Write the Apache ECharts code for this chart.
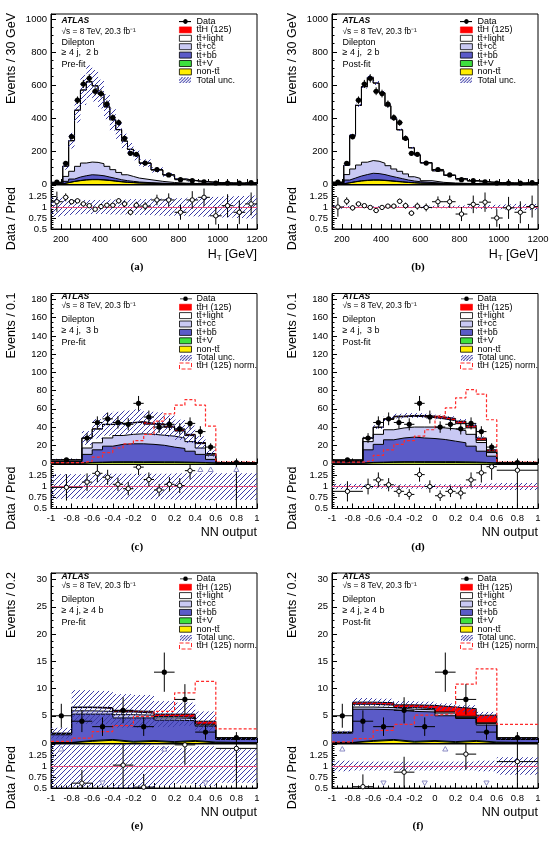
<!DOCTYPE html>
<html>
<head>
<meta charset="utf-8">
<script src="https://cdn.jsdelivr.net/npm/echarts@6/dist/echarts.min.js"></script>
<style>
  html, body { margin: 0; padding: 0; background: #fff; }
  #chart { width: 549px; height: 845px; }
</style>
</head>
<body>
<div id="chart"></div>
<script>
// ttH dilepton, pre-fit / post-fit distributions (6 panels)

// ---- H_T panels (a), (b) ----
var htEdges = [150, 210, 240, 270, 300, 330, 360, 390, 420, 450, 480, 510, 540, 570, 600, 660, 720, 780, 840, 900, 960, 1020, 1080, 1140, 1200];
var htData = [11, 125, 287, 508, 606, 640, 562, 548, 484, 402, 372, 277, 186, 180, 127, 88, 55, 26, 20, 13, 6, 6, 5, 8];
var htDataErr = [3.3, 11, 17, 22.5, 24.6, 25.3, 23.7, 23.4, 22, 20, 19.3, 16.6, 13.6, 13.4, 11.3, 9.4, 7.4, 5.1, 4.5, 3.6, 2.4, 2.4, 2.2, 2.8];

var nonttA = [1, 8, 15, 20, 24, 26, 26, 24, 21, 17, 13, 10, 8, 6, 4, 2.5, 1.5, 1, 0.6, 0.4, 0.3, 0.2, 0.1, 0.1];
var ttvA = [0.1, 0.5, 1, 1.5, 2, 2, 2, 2, 2, 1.5, 1.5, 1, 1, 0.8, 0.6, 0.4, 0.3, 0.2, 0.1, 0.1, 0.1, 0.05, 0.05, 0.05];
var ttbbA = [0.9, 7.5, 14, 20.5, 24, 28, 26, 24, 19, 15.5, 11.5, 9, 7, 5.2, 3.4, 2.1, 1.2, 0.8, 0.5, 0.3, 0.1, 0.15, 0.15, 0.15];
var ttccA = [2, 30, 47, 65, 77, 77, 77, 73, 65, 53, 44, 36, 30, 24, 18, 11, 6, 3, 1.8, 1.2, 0.7, 0.6, 0.5, 0.5];
var ttlightA = [4, 62, 185, 340, 442, 486, 463, 421, 360, 302, 259, 204, 164, 139, 100, 69, 46, 25, 16, 11, 7, 5, 4.2, 5.2];
var tthA = [0, 0.2, 0.5, 0.8, 1, 1, 1, 1, 0.9, 0.8, 0.6, 0.5, 0.4, 0.3, 0.3, 0.2, 0.1, 0.1, 0, 0, 0, 0, 0, 0];
var uncA = [0.22, 0.2, 0.18, 0.17, 0.16, 0.16, 0.16, 0.16, 0.16, 0.17, 0.17, 0.17, 0.18, 0.18, 0.18, 0.19, 0.2, 0.2, 0.21, 0.22, 0.23, 0.24, 0.25, 0.26];
var ratioA = [1.12, 1.22, 1.12, 1.14, 1.07, 1.03, 0.95, 1.01, 1.04, 1.04, 1.14, 1.07, 0.88, 1.04, 1.02, 1.16, 1.16, 0.88, 1.16, 1.22, 0.80, 1.03, 0.88, 1.07];
var ratioErrA = [0.23, 0.09, 0.06, 0.05, 0.04, 0.04, 0.04, 0.04, 0.05, 0.05, 0.06, 0.07, 0.07, 0.08, 0.09, 0.12, 0.15, 0.17, 0.2, 0.2, 0.2, 0.26, 0.27, 0.26];

var nonttB = [1, 7, 13, 18, 21, 23, 23, 21, 18, 15, 12, 9, 7, 5, 3.5, 2, 1.3, 0.8, 0.5, 0.3, 0.2, 0.1, 0.1, 0.1];
var ttvB = [0.1, 0.5, 1, 1.5, 2, 2, 2, 2, 2, 1.5, 1.5, 1, 1, 0.8, 0.6, 0.4, 0.3, 0.2, 0.1, 0.1, 0.1, 0.05, 0.05, 0.05];
var ttbbB = [1.9, 16.5, 22, 28.5, 34, 40, 38, 34, 28, 23.5, 18.5, 14, 10, 8.2, 4.9, 2.6, 1.4, 1.0, 0.6, 0.4, 0.2, 0.25, 0.15, 0.15];
var ttccB = [2, 33, 55, 67, 75, 77, 75, 69, 63, 51, 45, 37, 26, 20, 11, 5, 3, 2, 1.3, 0.8, 0.6, 0.5, 0.5, 0.5];
var ttlightB = [5, 56, 204, 361, 457, 503, 473, 426, 362, 305, 251, 210, 175, 142, 109, 70, 46, 29, 16.5, 10.4, 6.9, 5.1, 4.9, 7.2];
var tthB = [0, 0.3, 0.7, 1, 1.3, 1.4, 1.4, 1.3, 1.2, 1, 0.8, 0.7, 0.5, 0.4, 0.3, 0.2, 0.1, 0.1, 0, 0, 0, 0, 0, 0];
var uncB = [0.04, 0.03, 0.025, 0.02, 0.02, 0.02, 0.02, 0.02, 0.02, 0.02, 0.02, 0.02, 0.025, 0.025, 0.03, 0.03, 0.03, 0.035, 0.04, 0.045, 0.05, 0.06, 0.07, 0.07];
var ratioB = [1.0, 1.13, 0.98, 1.07, 1.03, 0.99, 0.92, 0.99, 1.02, 1.02, 1.13, 1.03, 0.86, 1.02, 0.99, 1.12, 1.12, 0.84, 1.06, 1.11, 0.75, 0.98, 0.88, 1.01];
var ratioErrB = [0.22, 0.09, 0.06, 0.05, 0.04, 0.04, 0.04, 0.04, 0.05, 0.05, 0.06, 0.07, 0.06, 0.08, 0.09, 0.12, 0.14, 0.16, 0.2, 0.22, 0.2, 0.25, 0.25, 0.25];

// ---- NN output, >=4j 3b : panels (c), (d) ----
var nn3Edges = [-1, -0.7, -0.6, -0.5, -0.4, -0.3, -0.2, -0.1, 0, 0.1, 0.2, 0.3, 0.4, 0.5, 0.6, 1];
var nn3Data = [4, 28, 45, 49, 45, 43, 66, 51, 40, 43, 38, 44, 35, 18, 1];
var nn3DataErr = [2, 5.3, 6.7, 7, 6.7, 6.6, 8.1, 7.1, 6.3, 6.6, 6.2, 6.6, 5.9, 4.2, 1];

var nonttC = [0.3, 0.8, 1.0, 1.2, 1.2, 1.2, 1.1, 1.1, 1.0, 1.0, 0.9, 0.8, 0.6, 0.3, 0.05];
var ttvC = [0.1, 0.4, 0.5, 0.6, 0.7, 0.7, 0.7, 0.8, 0.8, 0.8, 0.7, 0.6, 0.5, 0.3, 0.05];
var ttbbC = [1.6, 8.8, 13.5, 17.2, 19.1, 19.7, 19.8, 19.1, 18.2, 16.2, 14.9, 12.1, 8.9, 3.9, 0.2];
var ttccC = [0.5, 7, 7.7, 9, 9.7, 10.4, 11, 11, 11, 12, 11.5, 10.5, 7, 4.5, 0.1];
var ttlightC = [1.5, 10.9, 15.1, 14.7, 12.9, 12.5, 12.7, 11.1, 11.3, 9.7, 7.6, 6.6, 4.8, 1.2, 0.2];
var tthC = [0.02, 0.1, 0.2, 0.3, 0.4, 0.5, 0.7, 0.9, 1.2, 1.3, 1.4, 1.4, 1.2, 0.8, 0.1];
var uncC = [0.28, 0.27, 0.28, 0.29, 0.29, 0.29, 0.29, 0.29, 0.29, 0.29, 0.3, 0.3, 0.3, 0.32, 0.3];
var normC = [1, 2.5, 7, 12, 17, 21.6, 25, 32, 46.5, 54.5, 64, 70, 64, 41, 1.5];
var ratioC = [0.98, 1.10, 1.30, 1.21, 1.05, 0.95, 1.44, 1.16, 0.92, 1.05, 1.02, 1.36, 1.56, 1.8, 1.6];
var ratioErrC = [0.3, 0.2, 0.2, 0.17, 0.15, 0.15, 0.18, 0.16, 0.14, 0.16, 0.17, 0.2, 0, 0, 1.2];

var nonttD = [0.3, 0.8, 1.0, 1.2, 1.3, 1.3, 1.2, 1.2, 1.1, 1.1, 1.0, 0.9, 0.7, 0.3, 0.05];
var ttvD = [0.1, 0.4, 0.5, 0.6, 0.7, 0.7, 0.8, 0.8, 0.9, 0.9, 0.8, 0.7, 0.5, 0.3, 0.05];
var ttbbD = [1.6, 13.8, 19.5, 24.2, 26, 27, 26, 25.4, 24.3, 22.5, 20.9, 17.4, 12.3, 7.4, 0.2];
var ttccD = [0.6, 9, 11, 11, 11, 11, 12, 12.6, 12.7, 13.5, 13.3, 13, 9.5, 4, 0.1];
var ttlightD = [1.05, 3.8, 7.6, 11.4, 12.2, 11.7, 11.4, 10.3, 9.8, 8.9, 7.7, 7.1, 2.4, 1.4, 0.1];
var tthD = [0.05, 0.2, 0.4, 0.6, 0.8, 1.0, 1.3, 1.7, 2.2, 2.5, 2.8, 2.9, 2.6, 1.6, 0.2];
var uncD = [0.06, 0.05, 0.05, 0.05, 0.05, 0.05, 0.05, 0.05, 0.05, 0.05, 0.05, 0.05, 0.06, 0.07, 0.08];
var normD = [1.5, 3.3, 9, 15, 21, 25, 30, 37, 52, 61, 72, 81, 76, 48, 1.5];
var ratioD = [0.89, 1.0, 1.15, 1.04, 0.89, 0.82, 1.27, 1.0, 0.79, 0.89, 0.85, 1.15, 1.31, 1.45, 1.37];
var ratioErrD = [0.23, 0.18, 0.17, 0.15, 0.13, 0.12, 0.16, 0.14, 0.12, 0.13, 0.14, 0.17, 0.22, 0.3, 0.9];

// ---- NN output, >=4j >=4b : panels (e), (f) ----
var nn4Edges = [-1, -0.8, -0.6, -0.4, -0.2, 0, 0.2, 0.4, 0.6, 1];
var nn4Data = [5, 4, 3, 6, 3, 13, 8, 2, 1];
var nn4DataErr = [2.2, 2, 1.7, 2.4, 1.7, 3.6, 2.8, 1.4, 1];

var nonttE = [0.05, 0.3, 0.5, 0.15, 0.3, 0.1, 0.3, 0.05, 0.02];
var ttvE = [0.05, 0.15, 0.15, 0.15, 0.15, 0.15, 0.15, 0.12, 0.03];
var ttbbE = [1.4, 4.85, 4.65, 4.3, 4.15, 3.95, 3.65, 2.93, 0.63];
var ttccE = [0.15, 0.6, 0.5, 0.6, 0.5, 0.4, 0.4, 0.2, 0.04];
var ttlightE = [0.13, 0.6, 0.55, 0.5, 0.4, 0.25, 0.2, 0.15, 0.03];
var tthE = [0.02, 0.1, 0.15, 0.2, 0.3, 0.45, 0.6, 0.55, 0.05];
var uncE = [0.55, 0.47, 0.47, 0.52, 0.52, 0.45, 0.4, 0.45, 0.38];
var normE = [0.3, 0.9, 2.1, 3.2, 4.9, 5.8, 9.2, 11.3, 2.6];
var ratioE = [2.8, 0.61, 0.46, 1.02, 0.52, 2.45, 1.48, 0.48, 1.4];
var ratioErrE = [0, 0.3, 0, 0.5, 0.3, 0, 0.45, 0, 1.0];

var nonttF = [0.05, 0.3, 0.5, 0.15, 0.3, 0.1, 0.3, 0.05, 0.02];
var ttvF = [0.05, 0.15, 0.15, 0.15, 0.15, 0.15, 0.15, 0.12, 0.03];
var ttbbF = [1.7, 5.75, 5.45, 5.5, 5.25, 4.75, 4.05, 3.13, 0.6];
var ttccF = [0.1, 0.4, 0.4, 0.4, 0.4, 0.5, 0.2, 0.3, 0.03];
var ttlightF = [0.05, 0.5, 0.45, 0.3, 0.2, 0.2, 0.2, 0.1, 0.02];
var tthF = [0.05, 0.4, 0.45, 0.5, 0.6, 0.9, 1.4, 1.4, 0.1];
var uncF = [0.12, 0.1, 0.1, 0.1, 0.1, 0.1, 0.1, 0.12, 0.2];
var normF = [0.2, 0.8, 2.3, 3.4, 5.1, 5.4, 10.8, 13.6, 3.4];
var ratioF = [2.5, 0.53, 0.41, 0.86, 0.43, 1.97, 1.27, 0.39, 1.1];
var ratioErrF = [0, 0.28, 0, 0.35, 0, 0, 0.35, 0, 0.9];

// ---- labels ----
var TTB = 'tt\u0304';
var NAMES = {
  data: 'Data', tth: TTB + 'H (125)', light: TTB + '+light', cc: TTB + '+cc\u0304',
  bb: TTB + '+bb\u0304', ttv: TTB + '+V', non: 'non-' + TTB, unc: 'Total unc.', norm: TTB + 'H (125) norm.'
};
var STACK_ORDER = ['non', 'ttv', 'bb', 'cc', 'light', 'tth'];   // bottom -> top
var COLORS = { non: '#ffee00', ttv: '#3ee03e', bb: '#5b5bc8', cc: '#c9c9f4', light: '#ffffff', tth: '#ff0000' };
var FONT = '"Liberation Sans", Arial, Helvetica, sans-serif';
var SERIF = '"Liberation Serif", "Times New Roman", serif';

var panels = [
  { col: 0, row: 0, tag: '(a)', kind: 'ht', fit: 'Pre-fit', cut: '\u2265 4 j,  2 b', edges: htEdges, data: htData, err: htDataErr,
    stack: { non: nonttA, ttv: ttvA, bb: ttbbA, cc: ttccA, light: ttlightA, tth: tthA }, unc: uncA, ratio: ratioA, ratioErr: ratioErrA },
  { col: 1, row: 0, tag: '(b)', kind: 'ht', fit: 'Post-fit', cut: '\u2265 4 j,  2 b', edges: htEdges, data: htData, err: htDataErr,
    stack: { non: nonttB, ttv: ttvB, bb: ttbbB, cc: ttccB, light: ttlightB, tth: tthB }, unc: uncB, ratio: ratioB, ratioErr: ratioErrB },
  { col: 0, row: 1, tag: '(c)', kind: 'nn3', fit: 'Pre-fit', cut: '\u2265 4 j,  3 b', edges: nn3Edges, data: nn3Data, err: nn3DataErr,
    stack: { non: nonttC, ttv: ttvC, bb: ttbbC, cc: ttccC, light: ttlightC, tth: tthC }, unc: uncC, norm: normC, ratio: ratioC, ratioErr: ratioErrC },
  { col: 1, row: 1, tag: '(d)', kind: 'nn3', fit: 'Post-fit', cut: '\u2265 4 j,  3 b', edges: nn3Edges, data: nn3Data, err: nn3DataErr,
    stack: { non: nonttD, ttv: ttvD, bb: ttbbD, cc: ttccD, light: ttlightD, tth: tthD }, unc: uncD, norm: normD, ratio: ratioD, ratioErr: ratioErrD },
  { col: 0, row: 2, tag: '(e)', kind: 'nn4', fit: 'Pre-fit', cut: '\u2265 4 j, \u2265 4 b', edges: nn4Edges, data: nn4Data, err: nn4DataErr,
    stack: { non: nonttE, ttv: ttvE, bb: ttbbE, cc: ttccE, light: ttlightE, tth: tthE }, unc: uncE, norm: normE, ratio: ratioE, ratioErr: ratioErrE },
  { col: 1, row: 2, tag: '(f)', kind: 'nn4', fit: 'Post-fit', cut: '\u2265 4 j, \u2265 4 b', edges: nn4Edges, data: nn4Data, err: nn4DataErr,
    stack: { non: nonttF, ttv: ttvF, bb: ttbbF, cc: ttccF, light: ttlightF, tth: tthF }, unc: uncF, norm: normF, ratio: ratioF, ratioErr: ratioErrF }
];

var AXES = {
  ht:  { xMin: 150, xMax: 1200, xInt: 50, minor: false, yMax: 1030, yInt: 200, yTitle: 'Events / 30 GeV',
         xFmt: function (v) { return v % 200 === 0 ? String(v) : ''; } },
  nn3: { xMin: -1, xMax: 1, xInt: 0.2, minor: true, yMax: 186.5, yInt: 20, yTitle: 'Events / 0.1',
         xFmt: function (v) { return String(Math.round(v * 10) / 10); } },
  nn4: { xMin: -1, xMax: 1, xInt: 0.2, minor: true, yMax: 31.2, yInt: 5, yTitle: 'Events / 0.2',
         xFmt: function (v) { return String(Math.round(v * 10) / 10); } }
};

// layout
var COLS = [51, 332], W = 206;
var ROWS = [14, 293.5, 573], MAIN_H = 170, RAT_H = 44, GAP = 1;
var R_MIN = 0.5, R_MAX = 1.5;
var TXT_OFF = [[6.7, 17.7, 28.7, 38.3, 50.3], [3.2, 12.5, 26.5, 37.2, 48.8], [3.7, 13, 27, 37.7, 49.3]];
var LEG_OFF = [3, 0.8, 1.3];

// hatch pattern + legend icons
function hatchCanvas(w, h, step, lw, color) {
  var c = document.createElement('canvas');
  c.width = w; c.height = h;
  var g = c.getContext('2d');
  g.strokeStyle = color; g.lineWidth = lw;
  g.beginPath();
  for (var o = -h; o < w + h; o += step) { g.moveTo(o, h); g.lineTo(o + h, 0); }
  g.stroke();
  return c;
}
var hatchFill = { image: hatchCanvas(5, 5, 5, 1, '#3a3aa6'), repeat: 'repeat' };
var hatchIcon = 'image://' + hatchCanvas(36, 18, 9, 2.6, '#3a3aa6').toDataURL();
var dataIcon = (function () {
  var c = document.createElement('canvas');
  c.width = 36; c.height = 18;
  var g = c.getContext('2d');
  g.fillStyle = '#000';
  g.fillRect(0, 8, 36, 2.5);
  g.beginPath(); g.arc(18, 9, 7, 0, Math.PI * 2); g.fill();
  return 'image://' + c.toDataURL();
})();

function stepPts(edges, vals) {
  return edges.map(function (e, j) { return [e, vals[Math.min(j, vals.length - 1)]]; });
}

function bandRender(lo, hi) {
  return function (params, api) {
    var y0 = Math.max(api.value(2), lo), y1 = Math.min(api.value(3), hi);
    if (!(y1 > y0)) return null;
    var a = api.coord([api.value(0), y1]), b = api.coord([api.value(1), y0]);
    return { type: 'rect', silent: true,
      shape: { x: a[0], y: a[1], width: b[0] - a[0], height: b[1] - a[1] },
      style: { fill: hatchFill, stroke: null } };
  };
}

function dataRender(params, api) {
  var x = api.value(0), v = api.value(1), hw = api.value(2), e = api.value(3);
  var c = api.coord([x, v]), l = api.coord([x - hw, v]), r = api.coord([x + hw, v]);
  var t = api.coord([x, v + e]), b = api.coord([x, Math.max(v - e, 0)]);
  return { type: 'group', children: [
    { type: 'line', shape: { x1: l[0], y1: c[1], x2: r[0], y2: c[1] }, style: { stroke: '#000', lineWidth: 1 } },
    { type: 'line', shape: { x1: c[0], y1: t[1], x2: c[0], y2: b[1] }, style: { stroke: '#000', lineWidth: 1 } },
    { type: 'circle', shape: { cx: c[0], cy: c[1], r: 2.6 }, style: { fill: '#000' } }
  ] };
}

function ratioRender(params, api) {
  var x = api.value(0), r = api.value(1), hw = api.value(2), e = api.value(3);
  var kids = [];
  var lo = Math.max(r - e, R_MIN), hi = Math.min(r + e, R_MAX);
  if (e > 0 && hi > lo) {
    var p1 = api.coord([x, hi]), p2 = api.coord([x, lo]);
    kids.push({ type: 'line', shape: { x1: p1[0], y1: p1[1], x2: p2[0], y2: p2[1] }, style: { stroke: '#000', lineWidth: 1 } });
  }
  var c;
  if (r > R_MAX) {
    c = api.coord([x, R_MAX]);
    kids.push({ type: 'polygon', shape: { points: [[c[0] - 2.6, c[1] + 7], [c[0] + 2.6, c[1] + 7], [c[0], c[1] + 2.5]] },
      style: { fill: '#fff', stroke: '#8a8ac4', lineWidth: 1 } });
  } else if (r < R_MIN) {
    c = api.coord([x, R_MIN]);
    kids.push({ type: 'polygon', shape: { points: [[c[0] - 2.6, c[1] - 7], [c[0] + 2.6, c[1] - 7], [c[0], c[1] - 2.5]] },
      style: { fill: '#fff', stroke: '#8a8ac4', lineWidth: 1 } });
  } else {
    c = api.coord([x, r]);
    var l = api.coord([x - hw, r]), rr = api.coord([x + hw, r]);
    kids.push({ type: 'line', shape: { x1: l[0], y1: c[1], x2: rr[0], y2: c[1] }, style: { stroke: '#000', lineWidth: 1 } });
    kids.push({ type: 'circle', shape: { cx: c[0], cy: c[1], r: 2.2 }, style: { fill: '#fff', stroke: '#000', lineWidth: 1 } });
  }
  return { type: 'group', children: kids };
}

var grids = [], xAxes = [], yAxes = [], series = [], legends = [], graphics = [];

function axisCommon() {
  return {
    axisLine: { show: true, onZero: false, lineStyle: { color: '#000', width: 1 } },
    axisTick: { show: true, inside: true, length: 5, lineStyle: { color: '#000', width: 1 } },
    splitLine: { show: false }, minorSplitLine: { show: false }
  };
}

panels.forEach(function (p, i) {
  var ax = AXES[p.kind];
  var L = COLS[p.col], T = ROWS[p.row];
  var RT = T + MAIN_H + GAP;
  var gm = 2 * i, gr = 2 * i + 1;

  grids.push({ left: L, top: T, width: W, height: MAIN_H, show: true, borderColor: '#000', borderWidth: 1,
    backgroundColor: 'transparent', containLabel: false, outerBoundsMode: 'none' });
  grids.push({ left: L, top: RT, width: W, height: RAT_H, show: true, borderColor: '#000', borderWidth: 1,
    backgroundColor: 'transparent', containLabel: false, outerBoundsMode: 'none' });

  [gm, gr].forEach(function (g) {
    var isRatio = g === gr;
    xAxes.push(Object.assign(axisCommon(), {
      type: 'value', gridIndex: g, min: ax.xMin, max: ax.xMax, interval: ax.xInt,
      minorTick: { show: ax.minor, splitNumber: 4, length: 2.5, lineStyle: { color: '#000' } },
      axisLabel: { show: isRatio, color: '#000', fontSize: 9.5, fontFamily: FONT, margin: 5, formatter: ax.xFmt }
    }));
  });
  yAxes.push(Object.assign(axisCommon(), {
    type: 'value', gridIndex: gm, min: 0, max: ax.yMax, interval: ax.yInt,
    minorTick: { show: true, splitNumber: 4, length: 2.5, lineStyle: { color: '#000' } },
    axisLabel: { color: '#000', fontSize: 9.5, fontFamily: FONT, margin: 4, showMaxLabel: false,
      formatter: function (v) { return v % ax.yInt === 0 ? String(v) : ''; } }
  }));
  yAxes.push(Object.assign(axisCommon(), {
    type: 'value', gridIndex: gr, min: R_MIN, max: R_MAX, interval: 0.25,
    minorTick: { show: true, splitNumber: 5, length: 2.5, lineStyle: { color: '#000' } },
    axisLabel: { color: '#000', fontSize: 9.5, fontFamily: FONT, margin: 4,
      formatter: function (v) { return v >= R_MAX ? '' : String(v); } }
  }));

  // stacked histograms (drawn top layer first, each filled down to zero)
  var n = p.data.length;
  var cum = [], run = new Array(n).fill(0);
  STACK_ORDER.forEach(function (key) {
    run = run.map(function (v, b) { return v + p.stack[key][b]; });
    cum.push(run.slice());
  });
  var total = cum[cum.length - 1];
  for (var k = STACK_ORDER.length - 1; k >= 0; k--) {
    var key = STACK_ORDER[k];
    series.push({
      type: 'line', name: NAMES[key], xAxisIndex: gm, yAxisIndex: gm, step: 'end', symbol: 'none',
      data: stepPts(p.edges, cum[k]), silent: true, z: 2,
      lineStyle: { color: '#000', width: 1 },
      areaStyle: { color: COLORS[key], opacity: 1 }
    });
  }

  // uncertainty band
  var bins = p.data.map(function (d, b) { return [p.edges[b], p.edges[b + 1]]; });
  series.push({
    type: 'custom', name: NAMES.unc, xAxisIndex: gm, yAxisIndex: gm, z: 3, silent: true,
    renderItem: bandRender(0, ax.yMax),
    data: bins.map(function (e, b) { return [e[0], e[1], total[b] * (1 - p.unc[b]), total[b] * (1 + p.unc[b])]; })
  });

  if (p.norm) {
    series.push({
      type: 'line', name: NAMES.norm, xAxisIndex: gm, yAxisIndex: gm, step: 'end', symbol: 'none', z: 4, silent: true,
      data: stepPts(p.edges, p.norm),
      lineStyle: { color: '#ff2a2a', width: 1.2, type: [3, 2] }
    });
  }

  series.push({
    type: 'custom', name: NAMES.data, xAxisIndex: gm, yAxisIndex: gm, z: 5, silent: true,
    renderItem: dataRender,
    data: bins.map(function (e, b) { return [(e[0] + e[1]) / 2, p.data[b], (e[1] - e[0]) / 2, p.err[b]]; })
  });

  // ratio panel
  series.push({
    type: 'custom', xAxisIndex: gr, yAxisIndex: gr, z: 2, silent: true,
    renderItem: bandRender(R_MIN, R_MAX),
    data: bins.map(function (e, b) { return [e[0], e[1], 1 - p.unc[b], 1 + p.unc[b]]; }),
    markLine: { silent: true, symbol: ['none', 'none'], label: { show: false }, animation: false,
      lineStyle: { color: '#e2507c', width: 1, type: 'solid' }, data: [{ yAxis: 1 }] }
  });
  series.push({
    type: 'custom', xAxisIndex: gr, yAxisIndex: gr, z: 5, silent: true,
    renderItem: ratioRender,
    data: bins.map(function (e, b) { return [(e[0] + e[1]) / 2, p.ratio[b], (e[1] - e[0]) / 2, p.ratioErr[b]]; })
  });

  // legend
  var items = [
    { name: NAMES.data, icon: dataIcon },
    { name: NAMES.tth, icon: 'rect', itemStyle: { color: COLORS.tth, borderColor: '#ff0000', borderWidth: 0.6 } },
    { name: NAMES.light, icon: 'rect', itemStyle: { color: COLORS.light, borderColor: '#000', borderWidth: 0.8 } },
    { name: NAMES.cc, icon: 'rect', itemStyle: { color: COLORS.cc, borderColor: '#000', borderWidth: 0.8 } },
    { name: NAMES.bb, icon: 'rect', itemStyle: { color: COLORS.bb, borderColor: '#000', borderWidth: 0.8 } },
    { name: NAMES.ttv, icon: 'rect', itemStyle: { color: COLORS.ttv, borderColor: '#000', borderWidth: 0.8 } },
    { name: NAMES.non, icon: 'rect', itemStyle: { color: COLORS.non, borderColor: '#000', borderWidth: 0.8 } },
    { name: NAMES.unc, icon: hatchIcon }
  ];
  if (p.norm) {
    items.push({ name: NAMES.norm, icon: 'rect',
      itemStyle: { color: '#fff', borderColor: '#ff2a2a', borderWidth: 1, borderType: 'dashed' } });
  }
  legends.push({
    left: L + 128, top: T + LEG_OFF[p.row], orient: 'vertical', padding: 0,
    itemWidth: 12, itemHeight: 6, itemGap: -0.6, selectedMode: false,
    textStyle: { color: '#000', fontSize: 9, fontFamily: FONT, lineHeight: 8 },
    data: items
  });

  // text annotations
  var tx = L + 10.5, off = TXT_OFF[p.row];
  function txt(x, y, text, font, extra) {
    var el = { type: 'text', x: x, y: y, silent: true,
      style: Object.assign({ text: text, font: font, fill: '#000', align: 'left', verticalAlign: 'middle',
        textAlign: 'left', textVerticalAlign: 'middle' }, extra || {}) };
    graphics.push(el);
    return el;
  }
  txt(tx, T + off[0], 'ATLAS', 'italic bold 8.5px ' + FONT);
  txt(tx, T + off[1], '\u221As = 8 TeV, 20.3 fb\u207B\u00B9', '8.3px ' + FONT);
  txt(tx, T + off[2], 'Dilepton', '9px ' + FONT);
  txt(tx, T + off[3], p.cut, '9px ' + FONT);
  txt(tx, T + off[4], p.fit, '9px ' + FONT);

  var yt = txt(L - 39, T - 1, ax.yTitle, '12.5px ' + FONT, { align: 'right', textAlign: 'right' });
  yt.rotation = Math.PI / 2;
  var rt = txt(L - 39, RT + 2, 'Data / Pred', '12.5px ' + FONT, { align: 'right', textAlign: 'right' });
  rt.rotation = Math.PI / 2;

  var RB = RT + RAT_H;
  if (p.kind === 'ht') {
    graphics.push({ type: 'text', x: L + W, y: RB + 26, silent: true,
      style: { text: '{h|H}{t|T}{h| [GeV]}', align: 'right', verticalAlign: 'middle', textAlign: 'right', textVerticalAlign: 'middle',
        rich: { h: { fontSize: 12.5, fontFamily: FONT, fill: '#000', lineHeight: 14 },
                t: { fontSize: 8, fontFamily: FONT, fill: '#000', lineHeight: 6, verticalAlign: 'bottom' } } } });
  } else {
    txt(L + W, RB + 24.5, 'NN output', '12.5px ' + FONT, { align: 'right', textAlign: 'right' });
  }
  txt(L + 86, RB + 38.3, p.tag, 'bold 11px ' + SERIF, { align: 'center', textAlign: 'center' });
});

var chart = echarts.init(document.getElementById('chart'), null, { renderer: 'canvas' });
chart.setOption({
  animation: false,
  backgroundColor: '#fff',
  textStyle: { fontFamily: FONT },
  grid: grids,
  xAxis: xAxes,
  yAxis: yAxes,
  legend: legends,
  graphic: { elements: graphics },
  series: series
});
window.addEventListener('resize', function () { chart.resize(); });
</script>
</body>
</html>
